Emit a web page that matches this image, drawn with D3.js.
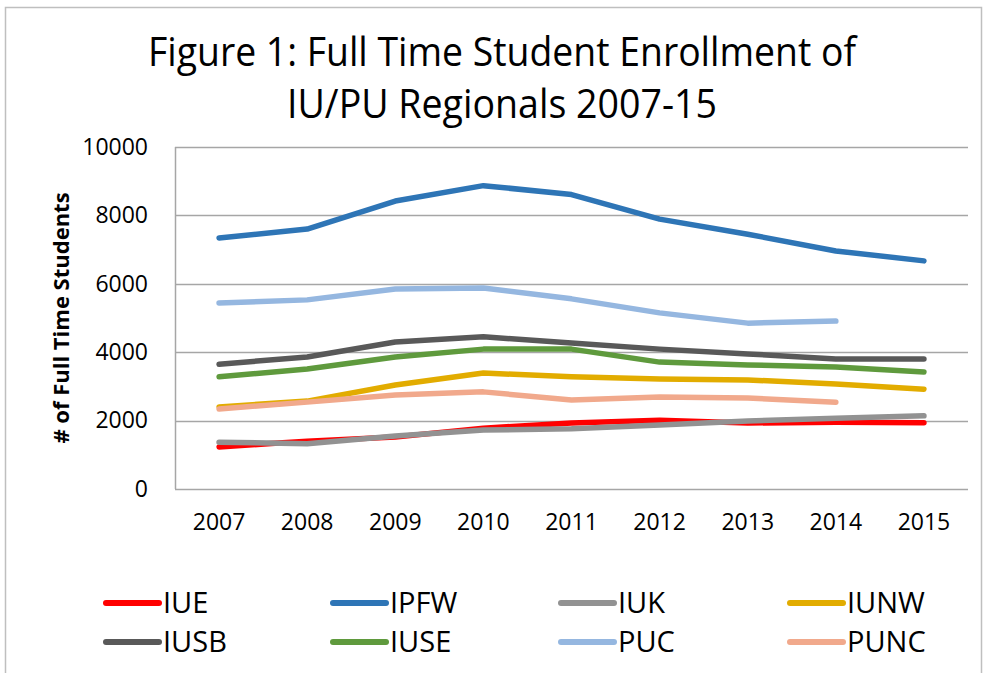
<!DOCTYPE html>
<html>
<head>
<meta charset="utf-8">
<script src="https://cdn.jsdelivr.net/npm/d3@7"></script>
<style>
  body { margin: 0; background: #fff; }
  text { font-family: "Liberation Sans Narrow", "Open Sans", sans-serif; }
</style>
</head>
<body>
<div id="chart"></div>
<script>
var years = ["2007", "2008", "2009", "2010", "2011", "2012", "2013", "2014", "2015"];
var yTicks = [0, 2000, 4000, 6000, 8000, 10000];
var seriesNames = ["IUE", "IPFW", "IUK", "IUNW", "IUSB", "IUSE", "PUC", "PUNC"];
var seriesColors = ["#ff0000", "#2e75b6", "#929292", "#e2ac00", "#595959", "#5f9a3d", "#95b7e0", "#f1a98c"];

var iue  = [1230, 1400, 1520, 1780, 1930, 2010, 1930, 1950, 1940];
var ipfw = [7340, 7600, 8420, 8870, 8610, 7890, 7450, 6960, 6670];
var iuk  = [1370, 1320, 1550, 1725, 1760, 1870, 1990, 2070, 2140];
var iunw = [2400, 2570, 3040, 3390, 3280, 3220, 3190, 3070, 2920];
var iusb = [3650, 3860, 4300, 4450, 4270, 4090, 3950, 3800, 3800];
var iuse = [3280, 3510, 3860, 4090, 4090, 3710, 3625, 3570, 3420];
var puc  = [5440, 5530, 5850, 5880, 5560, 5150, 4850, 4910, null];
var punc = [2340, 2540, 2750, 2840, 2600, 2690, 2660, 2540, null];

var seriesValues = [iue, ipfw, iuk, iunw, iusb, iuse, puc, punc];

var width = 985, height = 673;
var margin = { top: 147, right: 17, bottom: 184, left: 175 };

var svg = d3.select("#chart").append("svg")
    .attr("width", width)
    .attr("height", height);

// outer chart border
svg.append("rect")
    .attr("x", 5.5).attr("y", 7.5)
    .attr("width", 976).attr("height", 680)
    .attr("fill", "none")
    .attr("stroke", "#bfbfbf")
    .attr("stroke-width", 1.5);

// title
var title = svg.append("text")
    .attr("text-anchor", "middle")
    .attr("font-size", 40)
    .attr("fill", "#000");
title.append("tspan").attr("x", 502).attr("y", 66)
    .attr("textLength", 708).attr("lengthAdjust", "spacingAndGlyphs")
    .text("Figure 1: Full Time Student Enrollment of");
title.append("tspan").attr("x", 502).attr("y", 118)
    .attr("textLength", 430).attr("lengthAdjust", "spacingAndGlyphs")
    .text("IU/PU Regionals 2007-15");

var x = d3.scaleBand()
    .domain(years)
    .range([margin.left, width - margin.right]);

var y = d3.scaleLinear()
    .domain([0, 10000])
    .range([height - margin.bottom, margin.top]);

// gridlines
svg.append("g")
    .selectAll("line")
    .data(yTicks)
    .enter()
    .append("line")
    .attr("x1", margin.left)
    .attr("x2", width - margin.right)
    .attr("y1", function(d) { return Math.round(y(d)) + 0.5; })
    .attr("y2", function(d) { return Math.round(y(d)) + 0.5; })
    .attr("stroke", "#a6a6a6")
    .attr("stroke-width", 1.5);

// y axis line
svg.append("line")
    .attr("x1", margin.left + 0.5).attr("x2", margin.left + 0.5)
    .attr("y1", y(10000)).attr("y2", y(0))
    .attr("stroke", "#a6a6a6")
    .attr("stroke-width", 1.5);

var yAxis = svg.append("g")
    .attr("transform", "translate(" + margin.left + ",0)")
    .call(d3.axisLeft(y).tickValues(yTicks).tickSize(0).tickPadding(27).tickFormat(d3.format("d")));
yAxis.select(".domain").remove();
yAxis.selectAll("text")
    .attr("font-size", 23)
    .attr("fill", "#000")
    .style("font-family", "'Liberation Sans Narrow', 'Open Sans', sans-serif");

var xAxis = svg.append("g")
    .attr("transform", "translate(0," + (height - margin.bottom) + ")")
    .call(d3.axisBottom(x).tickSize(0).tickPadding(25));
xAxis.select(".domain").remove();
xAxis.selectAll("text")
    .attr("font-size", 23)
    .attr("fill", "#000")
    .style("font-family", "'Liberation Sans Narrow', 'Open Sans', sans-serif");

// y axis title
svg.append("text")
    .attr("transform", "translate(69,318) rotate(-90)")
    .attr("text-anchor", "middle")
    .attr("font-size", 22)
    .attr("font-weight", "bold")
    .attr("fill", "#000")
    .text("# of Full Time Students");

// lines
var line = d3.line()
    .defined(function(d) { return d != null; })
    .x(function(d, i) { return x(years[i]) + x.bandwidth() / 2; })
    .y(function(d) { return y(d); });

svg.append("g")
    .selectAll("path")
    .data(seriesValues)
    .enter()
    .append("path")
    .attr("d", line)
    .attr("fill", "none")
    .attr("stroke", function(d, i) { return seriesColors[i]; })
    .attr("stroke-width", 5.5)
    .attr("stroke-linecap", "round")
    .attr("stroke-linejoin", "round");

// legend
var legendCols = [104, 331, 559, 788];
var legendRows = [603, 642];
var legend = svg.append("g")
    .selectAll("g")
    .data(seriesNames)
    .enter()
    .append("g")
    .attr("transform", function(d, i) {
        return "translate(" + legendCols[i % 4] + "," + legendRows[Math.floor(i / 4)] + ")";
    });
legend.append("line")
    .attr("x1", 2).attr("x2", 55)
    .attr("y1", 0).attr("y2", 0)
    .attr("stroke", function(d, i) { return seriesColors[i]; })
    .attr("stroke-width", 6)
    .attr("stroke-linecap", "round");
legend.append("text")
    .attr("x", 59)
    .attr("y", 10)
    .attr("font-size", 29)
    .attr("fill", "#000")
    .text(function(d) { return d; });
</script>
</body>
</html>
